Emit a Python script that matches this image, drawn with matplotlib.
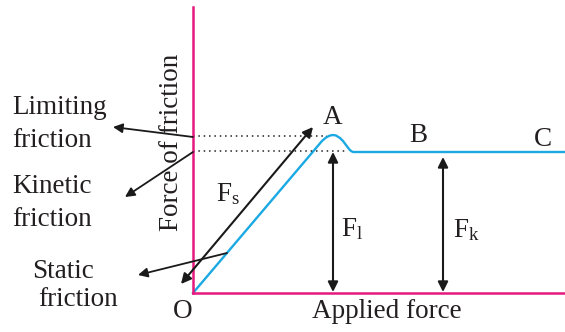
import matplotlib.pyplot as plt

plt.rcParams['font.family'] = ['Liberation Serif', 'DejaVu Serif']

pink = '#e5197e'
blue = '#1ba9e3'

# friction curve (x: applied force, y: friction force), origin at O
curve_x = [0, 129, 133, 137, 140, 143, 147, 150, 153, 156, 158, 160, 372]
curve_y = [0, 152, 155.5, 157.5, 158, 157.5, 155, 152, 148, 144, 142, 141, 141]

limit_level = 157
kinetic_level = 142

# double arrows: (x0, y0, x1, y1)
fs_arrow = (-12, 9, 120, 166)
fl_arrow = (140, 1, 140, 141)
fk_arrow = (250, 1, 250, 136)

# pointer arrows from curve to side labels: (tail, head)
pointers = [((0, 156), (-80, 166)),
            ((0, 141), (-68, 96)),
            ((34, 40), (-55, 18))]

fig = plt.figure(figsize=(5.65, 3.32), dpi=100)
ax = fig.add_axes([193 / 565, 39 / 332, 372 / 565, 286 / 332])
ax.set_xlim(0, 372)
ax.set_ylim(0, 286)
for s in ['top', 'right']:
    ax.spines[s].set_visible(False)
for s in ['left', 'bottom']:
    ax.spines[s].set_color(pink)
    ax.spines[s].set_linewidth(1.8)
ax.set_xticks([])
ax.set_yticks([])

ax.plot(curve_x, curve_y, color=blue, lw=1.7, clip_on=False, solid_joinstyle='round')
ax.plot([0, 134], [limit_level, limit_level], color='#222222', lw=1.1, ls=(0, (1, 2.5)))
ax.plot([0, 152], [kinetic_level, kinetic_level], color='#222222', lw=1.1, ls=(0, (1, 2.5)))

akw = dict(arrowstyle='<|-|>', color='#1a1a1a', lw=1.5, mutation_scale=15, shrinkA=0, shrinkB=0)
for x0, y0, x1, y1 in [fs_arrow, fl_arrow, fk_arrow]:
    ax.annotate('', xy=(x1, y1), xytext=(x0, y0), arrowprops=akw, annotation_clip=False)

pkw = dict(arrowstyle='-|>', color='#1a1a1a', lw=1.3, mutation_scale=14, shrinkA=0, shrinkB=0)
for tail, head in pointers:
    ax.annotate('', xy=head, xytext=tail, arrowprops=pkw, annotation_clip=False)

fs = 19.5
tkw = dict(fontsize=fs, color='#231f20', clip_on=False)
ax.text(140, 176, 'A', ha='center', va='center', **tkw)
ax.text(225, 158, 'B', ha='center', va='center', **tkw)
ax.text(350, 153, 'C', ha='center', va='center', **tkw)
ax.text(-10, -19, 'O', ha='center', va='center', **tkw)
ax.text(194, -19, 'Applied force', ha='center', va='center', **tkw)
ax.text(-21, 151, 'Force of friction', ha='center', va='center', rotation=90, **tkw)
ax.text(35, 99, r'$\mathregular{F_{s}}$', ha='center', va='center', **tkw)
ax.text(159, 64, r'$\mathregular{F_{l}}$', ha='center', va='center', **tkw)
ax.text(273, 63, r'$\mathregular{F_{k}}$', ha='center', va='center', **tkw)

ax.text(-181, 169, 'Limiting\nfriction', ha='left', va='center', linespacing=1.4, **tkw)
ax.text(-181, 90, 'Kinetic\nfriction', ha='left', va='center', linespacing=1.4, **tkw)
ax.text(-130, 22, 'Static', ha='center', va='center', **tkw)
ax.text(-115, -6, 'friction', ha='center', va='center', **tkw)

fig.savefig('out.png', dpi=100)
